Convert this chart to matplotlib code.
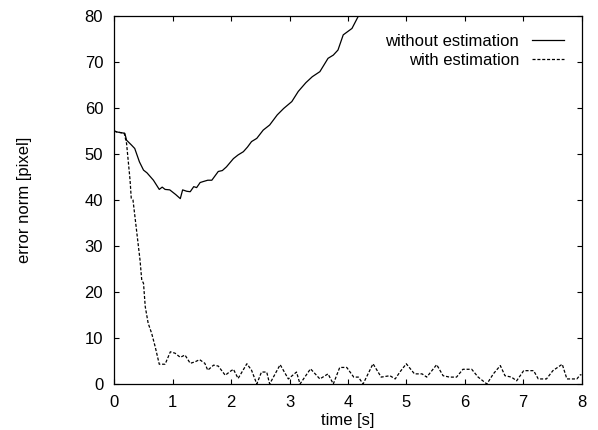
import matplotlib
matplotlib.use("Agg")
import matplotlib.pyplot as plt

# without estimation (solid)
t_without = [0.00, 0.04, 0.18, 0.21, 0.29, 0.35, 0.43, 0.50, 0.56, 0.67, 0.77,
             0.82, 0.87, 0.95, 1.05, 1.13, 1.17, 1.24, 1.30, 1.36, 1.41, 1.47,
             1.52, 1.60, 1.67, 1.78, 1.85, 1.92, 2.04, 2.12, 2.21, 2.28, 2.35,
             2.44, 2.55, 2.66, 2.79, 2.90, 3.04, 3.15, 3.28, 3.39, 3.52, 3.66,
             3.75, 3.83, 3.92, 4.07, 4.18, 4.30, 4.45]
e_without = [55.0, 54.8, 54.5, 53.0, 52.0, 51.2, 48.3, 46.5, 45.9, 44.3, 42.3,
             42.8, 42.3, 42.2, 41.2, 40.3, 42.2, 41.9, 41.8, 42.9, 42.7, 43.8,
             44.0, 44.3, 44.3, 46.2, 46.4, 47.2, 49.0, 49.8, 50.5, 51.5, 52.7,
             53.4, 55.2, 56.3, 58.5, 59.9, 61.4, 63.6, 65.5, 66.8, 67.9, 70.8,
             71.5, 72.6, 75.9, 77.3, 80.0, 83.0, 86.5]

# with estimation (dashed)
t_with = [0.00, 0.04, 0.17, 0.21, 0.27, 0.29, 0.32, 0.38, 0.44, 0.47, 0.50,
          0.53, 0.58, 0.64, 0.70, 0.77, 0.87, 0.96, 1.04, 1.13, 1.21, 1.30,
          1.38, 1.46, 1.55, 1.60, 1.70, 1.78, 1.90, 1.98, 2.04, 2.12, 2.27,
          2.35, 2.44, 2.52, 2.61, 2.66, 2.84, 2.98, 3.12, 3.18, 3.36, 3.52,
          3.66, 3.75, 3.86, 3.98, 4.10, 4.18, 4.26, 4.43, 4.57, 4.72, 4.81,
          4.89, 5.00, 5.14, 5.27, 5.35, 5.52, 5.63, 5.74, 5.86, 5.97, 6.12,
          6.23, 6.38, 6.49, 6.61, 6.69, 6.80, 6.89, 7.01, 7.18, 7.26, 7.40,
          7.51, 7.67, 7.75, 7.92, 7.98, 8.00]
e_with = [55.0, 54.8, 54.5, 52.3, 44.3, 40.4, 40.0, 33.5, 27.0, 22.6, 21.9,
          16.8, 13.2, 11.0, 8.1, 4.3, 4.3, 7.0, 6.7, 5.8, 6.3, 4.5,
          4.8, 5.3, 4.5, 3.0, 4.1, 3.9, 1.9, 2.7, 3.2, 1.2, 4.4,
          3.0, 0.0, 2.6, 2.6, 0.0, 4.2, 1.1, 2.6, 0.0, 3.3, 1.1,
          2.2, 0.0, 3.6, 3.6, 1.5, 1.5, 0.0, 4.4, 1.5, 1.8, 1.1,
          2.6, 4.4, 2.2, 2.2, 1.5, 4.2, 1.8, 1.5, 1.5, 3.2, 3.2,
          1.5, 0.0, 2.2, 4.0, 1.8, 1.5, 0.7, 2.9, 2.9, 1.1, 1.1,
          2.9, 4.3, 1.1, 1.1, 2.0, 2.0]

x_ticks = [0, 1, 2, 3, 4, 5, 6, 7, 8]
y_ticks = [0, 10, 20, 30, 40, 50, 60, 70, 80]

plt.rcParams['font.family'] = ['Liberation Sans', 'DejaVu Sans']
plt.rcParams['lines.scale_dashes'] = False

fig = plt.figure(figsize=(5.98, 4.30), dpi=100)
ax = fig.add_axes([114.3 / 598, 1 - 384 / 430, 467.2 / 598, 368 / 430])

ax.plot(t_without, e_without, color='black', lw=0.9, label='without estimation')
ax.plot(t_with, e_with, color='black', lw=0.9, linestyle=(0, (2.2, 1.3)),
        label='with estimation')

ax.set_xlim(0, 8)
ax.set_ylim(0, 80)
ax.set_xticks(x_ticks)
ax.set_yticks(y_ticks)
ax.tick_params(direction='in', top=True, right=True, length=3.6, width=0.8,
               labelsize=12, pad=8)
for s in ax.spines.values():
    s.set_linewidth(0.9)

ax.set_xlabel('time [s]', fontsize=12)
ax.set_ylabel('error norm [pixel]', fontsize=12)
ax.xaxis.set_label_coords(0.5, -0.08)
ax.yaxis.set_label_coords(-0.176, 0.5)

ax.legend(loc='upper right', bbox_to_anchor=(0.9626, 0.952), frameon=False,
          markerfirst=False, fontsize=12, handlelength=1.92, handletextpad=0.78,
          labelspacing=0.27, borderpad=0, borderaxespad=0)

fig.savefig('out.png', dpi=100)
